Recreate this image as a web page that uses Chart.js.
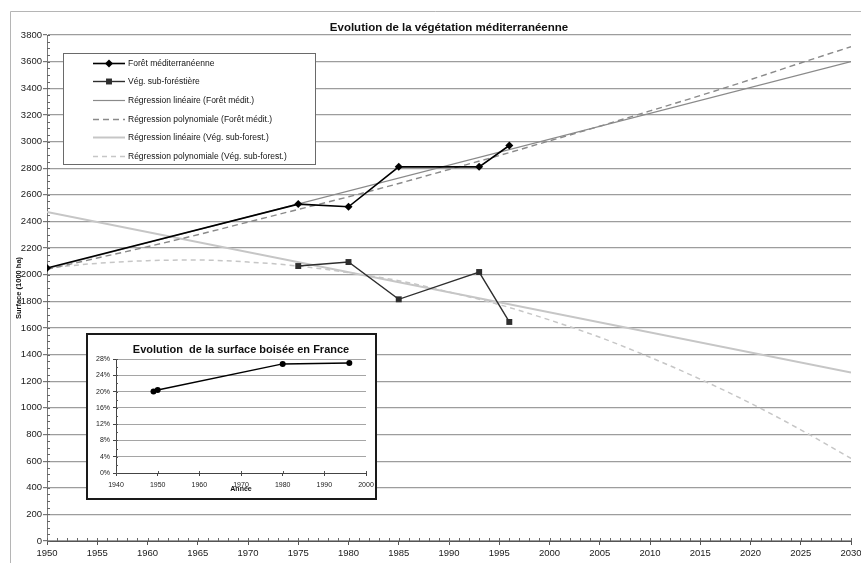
<!DOCTYPE html>
<html><head><meta charset="utf-8">
<script src="https://cdn.jsdelivr.net/npm/chart.js@4.4.1/dist/chart.umd.min.js"></script>
<style>
html,body{margin:0;padding:0;background:#fff;}
#wrap{position:relative;width:861px;height:563px;overflow:hidden;}
#main{position:absolute;left:0;top:0;}
#insetBox{position:absolute;left:86px;top:333px;width:291px;height:167px;box-sizing:border-box;border:2px solid #1a1a1a;background:#fff;}
#inset{display:block;}
</style></head><body>
<div id="wrap">
<canvas id="main" width="861" height="563"></canvas>
<div id="insetBox"><canvas id="inset" width="287" height="163"></canvas></div>
</div>
<script>
// ---- Data ----
const foretYears = [1950, 1975, 1980, 1985, 1993, 1996];
const foretValues = [2050, 2530, 2510, 2810, 2810, 2970];
const subYears = [1975, 1980, 1985, 1993, 1996];
const subValues = [2065, 2095, 1815, 2020, 1645];
const linYears = [1950, 2030];
const foretLinear = [2045, 3600];
const subLinear = [2470, 1265];
const polyYears = [1950, 1955, 1960, 1965, 1970, 1975, 1980, 1985, 1990, 1995, 2000, 2005, 2010, 2015, 2020, 2025, 2030];
const foretPoly = [2040, 2125, 2210, 2300, 2395, 2490, 2585, 2685, 2790, 2895, 3005, 3115, 3230, 3345, 3465, 3590, 3712];
const subPoly = [2050, 2085, 2105, 2110, 2095, 2065, 2015, 1955, 1870, 1775, 1660, 1530, 1380, 1215, 1035, 835, 620];
const seriesLabels = ['Forêt méditerranéenne', 'Vég. sub-foréstière', 'Régression linéaire (Forêt médit.)', 'Régression polynomiale (Forêt médit.)', 'Régression linéaire (Vég. sub-forest.)', 'Régression polynomiale (Vég. sub-forest.)'];
const mainTitle = 'Evolution de la végétation méditerranéenne';
const yAxisTitle = 'Surface (1000 ha)';
const xRange = [1950, 2030];
const yRange = [0, 3800];

const insetYears = [1949, 1950, 1980, 1996];
const insetShare = [20.0, 20.4, 26.8, 27.0];
const insetTitle = 'Evolution  de la surface boisée en France';
const insetXTitle = 'Année';
const insetXRange = [1940, 2000];
const insetYRange = [0, 28];

// ---- helpers ----
const FONT = "'Liberation Sans', Arial, Helvetica, sans-serif";
Chart.defaults.font.family = FONT;
Chart.defaults.color = '#1a1a1a';
const toXY = (xs, ys) => xs.map((x, i) => ({x: x, y: ys[i]}));

function markerPath(ctx, style, x, y, r) {
  ctx.beginPath();
  if (style === 'rectRot') {
    ctx.moveTo(x, y - r); ctx.lineTo(x + r, y); ctx.lineTo(x, y + r); ctx.lineTo(x - r, y); ctx.closePath();
  } else if (style === 'rect') {
    const s = r * Math.SQRT1_2;
    ctx.rect(x - s, y - s, 2 * s, 2 * s);
  } else {
    ctx.arc(x, y, r, 0, Math.PI * 2);
  }
}

const framePlugin = {
  id: 'framePlugin',
  beforeDraw(chart, args, o) {
    const ctx = chart.ctx;
    ctx.save();
    ctx.fillStyle = '#fff';
    ctx.fillRect(0, 0, chart.width, chart.height);
    if (o && o.enabled) {
      ctx.strokeStyle = '#b5b5b5';
      ctx.lineWidth = 1;
      ctx.beginPath();
      ctx.moveTo(10.5, chart.height); ctx.lineTo(10.5, 11.5); ctx.lineTo(chart.width, 11.5);
      ctx.stroke();
    }
    ctx.restore();
  }
};

const minorTicks = {
  id: 'minorTicks',
  beforeDatasetsDraw(chart, args, o) {
    if (!o || !o.enabled) return;
    const ctx = chart.ctx, xs = chart.scales.x, ys = chart.scales.y;
    ctx.save();
    ctx.strokeStyle = o.color || '#555';
    ctx.lineWidth = 1;
    ctx.beginPath();
    for (let v = xs.min; v <= xs.max + 1e-9; v += o.xStep) {
      const px = Math.round(xs.getPixelForValue(v)) + 0.5;
      ctx.moveTo(px, xs.top); ctx.lineTo(px, xs.top - o.len);
    }
    for (let v = ys.min; v <= ys.max + 1e-9; v += o.yStep) {
      const py = Math.round(ys.getPixelForValue(v)) + 0.5;
      ctx.moveTo(ys.right, py); ctx.lineTo(ys.right + o.len, py);
    }
    ctx.stroke();
    ctx.restore();
  }
};

const boxLegend = {
  id: 'boxLegend',
  afterDatasetsDraw(chart, args, o) {
    if (!o || !o.enabled) return;
    const ctx = chart.ctx, ca = chart.chartArea;
    const x0 = Math.round(ca.left + o.dx), y0 = Math.round(ca.top + o.dy);
    ctx.save();
    ctx.fillStyle = '#fff';
    ctx.fillRect(x0, y0, o.w, o.h);
    ctx.strokeStyle = '#6a6a6a';
    ctx.lineWidth = 1;
    ctx.strokeRect(x0 + 0.5, y0 + 0.5, o.w, o.h);
    chart.data.datasets.forEach((ds, i) => {
      const y = Math.round(y0 + o.firstRow + i * o.rowGap) + 0.5;
      const lx = x0 + o.lineX;
      ctx.save();
      ctx.strokeStyle = ds.borderColor;
      ctx.lineWidth = ds.borderWidth;
      ctx.setLineDash(ds.borderDash || []);
      ctx.beginPath(); ctx.moveTo(lx, y); ctx.lineTo(lx + o.lineW, y); ctx.stroke();
      ctx.restore();
      if (ds.pointRadius) {
        ctx.fillStyle = ds.backgroundColor;
        markerPath(ctx, ds.pointStyle, lx + o.lineW / 2, y, ds.pointRadius);
        ctx.fill();
      }
      ctx.fillStyle = '#111';
      ctx.font = o.font;
      ctx.textBaseline = 'middle';
      ctx.textAlign = 'left';
      ctx.fillText(ds.label, x0 + o.textX, y);
    });
    ctx.restore();
  }
};

Chart.register(framePlugin, minorTicks, boxLegend);

// ---- Main chart ----
new Chart(document.getElementById('main'), {
  type: 'line',
  data: {
    datasets: [
      {label: seriesLabels[0], data: toXY(foretYears, foretValues), borderColor: '#000', backgroundColor: '#000', borderWidth: 1.6, pointStyle: 'rectRot', pointRadius: 4, pointBorderWidth: 0, pointHoverRadius: 4},
      {label: seriesLabels[1], data: toXY(subYears, subValues), borderColor: '#2e2e2e', backgroundColor: '#2e2e2e', borderWidth: 1.4, pointStyle: 'rect', pointRadius: 4.2, pointBorderWidth: 0, pointHoverRadius: 4.2},
      {label: seriesLabels[2], data: toXY(linYears, foretLinear), borderColor: '#8a8a8a', backgroundColor: '#8a8a8a', borderWidth: 1.2, pointRadius: 0},
      {label: seriesLabels[3], data: toXY(polyYears, foretPoly), borderColor: '#8a8a8a', backgroundColor: '#8a8a8a', borderWidth: 1.4, borderDash: [6, 4], pointRadius: 0, cubicInterpolationMode: 'monotone'},
      {label: seriesLabels[4], data: toXY(linYears, subLinear), borderColor: '#c6c6c6', backgroundColor: '#c6c6c6', borderWidth: 2, pointRadius: 0},
      {label: seriesLabels[5], data: toXY(polyYears, subPoly), borderColor: '#c6c6c6', backgroundColor: '#c6c6c6', borderWidth: 1.5, borderDash: [5, 4], pointRadius: 0, cubicInterpolationMode: 'monotone'}
    ]
  },
  options: {
    responsive: false,
    animation: false,
    devicePixelRatio: 1,
    layout: {padding: {left: 10, right: 10, top: 0, bottom: 0}},
    plugins: {
      legend: {display: false},
      tooltip: {enabled: false},
      title: {display: true, text: mainTitle, fullSize: false, font: {size: 11.5, weight: 'bold'}, color: '#111', padding: {top: 20.5, bottom: 0.7}},
      framePlugin: {enabled: true},
      minorTicks: {enabled: true, xStep: 1, yStep: 50, len: 3, color: '#666'},
      boxLegend: {enabled: true, dx: 16, dy: 18, w: 252, h: 111, firstRow: 9.7, rowGap: 18.6, lineX: 30, lineW: 32, textX: 65, font: '8.5px ' + FONT}
    },
    scales: {
      x: {
        type: 'linear', min: xRange[0], max: xRange[1],
        ticks: {stepSize: 5, maxRotation: 0, autoSkip: false, padding: 3, font: {size: 9.5}, color: '#1a1a1a', callback: v => String(v)},
        grid: {drawOnChartArea: false, drawTicks: true, tickLength: 4, tickColor: '#555'},
        border: {color: '#555', width: 1},
        afterFit(s) { s.height = 22; s.paddingRight = 0; s.paddingLeft = 0; }
      },
      y: {
        type: 'linear', min: yRange[0], max: yRange[1],
        ticks: {stepSize: 200, padding: 1, font: {size: 9.5}, color: '#1a1a1a', callback: v => String(v)},
        grid: {color: '#9d9d9d', lineWidth: 1.2, tickLength: 4, tickColor: '#777'},
        border: {color: '#777', width: 1},
        title: {display: true, text: yAxisTitle, font: {size: 7.5, weight: 'bold'}, color: '#111', padding: {top: 4, bottom: 0}},
        afterFit(s) { s.width = 37; }
      }
    }
  }
});

// ---- Inset chart ----
new Chart(document.getElementById('inset'), {
  type: 'line',
  data: {
    datasets: [
      {label: insetTitle, data: toXY(insetYears, insetShare), borderColor: '#000', backgroundColor: '#000', borderWidth: 1.5, pointStyle: 'circle', pointRadius: 3, pointHoverRadius: 3, pointBorderWidth: 0}
    ]
  },
  options: {
    responsive: false,
    animation: false,
    devicePixelRatio: 1,
    layout: {padding: {left: 0, right: 9, top: 0, bottom: 5}},
    plugins: {
      legend: {display: false},
      tooltip: {enabled: false},
      framePlugin: {enabled: false},
      boxLegend: {enabled: false},
      title: {display: true, text: insetTitle, fullSize: false, font: {size: 11, weight: 'bold'}, color: '#111', padding: {top: 8.4, bottom: 2.4}},
      minorTicks: {enabled: true, xStep: 10, yStep: 2, len: 2, color: '#555'}
    },
    scales: {
      x: {
        type: 'linear', min: insetXRange[0], max: insetXRange[1],
        ticks: {stepSize: 10, maxRotation: 0, autoSkip: false, padding: 5, font: {size: 7}, color: '#1a1a1a', callback: v => String(v)},
        grid: {drawOnChartArea: false, tickLength: 3, tickColor: '#444'},
        border: {color: '#444'},
        title: {display: true, text: insetXTitle, font: {size: 7, weight: 'bold'}, color: '#111', padding: 0},
        afterFit(s) { s.height = 20; s.paddingRight = 0; }
      },
      y: {
        type: 'linear', min: insetYRange[0], max: insetYRange[1],
        ticks: {stepSize: 4, padding: 3, font: {size: 7}, color: '#1a1a1a', callback: v => v + '%'},
        grid: {color: '#a5a5a5', lineWidth: 1, tickLength: 3, tickColor: '#444'},
        border: {color: '#444'},
        afterFit(s) { s.width = 28; }
      }
    }
  }
});
</script>
</body></html>
